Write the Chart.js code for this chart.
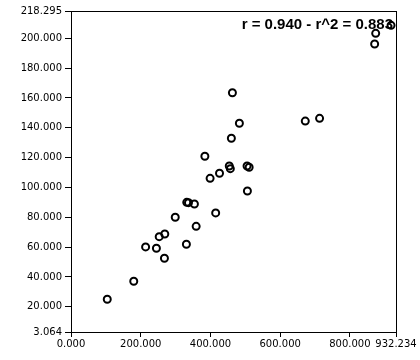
<!DOCTYPE html>
<html>
<head>
<meta charset="utf-8">
<script src="https://cdn.jsdelivr.net/npm/chart.js@4"></script>
<style>
  html, body { margin: 0; padding: 0; background: #fff; }
  #wrap { width: 420px; height: 360px; }
</style>
</head>
<body>
<div id="wrap"><canvas id="chart"></canvas></div>
<script>
// scatter values
const xValues = [104, 180, 214, 245, 253, 269, 268, 299, 331, 332, 337, 354, 359, 415, 384,
                 399, 426, 454, 457, 460, 483, 463, 505, 511, 506, 672, 713, 871, 874, 918];
const yValues = [25.0, 37.1, 60.1, 59.2, 67.0, 68.8, 52.5, 80.0, 61.9, 90.0, 89.8, 88.9, 73.9, 82.9, 120.9,
                 106.1, 109.5, 114.4, 112.6, 133.0, 143.0, 163.5, 114.4, 113.5, 97.6, 144.5, 146.3, 196.2, 203.3, 208.7];

const xTicks = [0, 200, 400, 600, 800, 932.234];
const yTicks = [3.064, 20, 40, 60, 80, 100, 120, 140, 160, 180, 200, 218.295];
const statText = 'r = 0.940 - r^2 = 0.883';

const points = xValues.map(function (x, i) { return { x: x, y: yValues[i] }; });

// frame round the plot area plus the r / r^2 text
const framePlugin = {
    id: 'frame',
    afterDraw: function (chart) {
        const ctx = chart.ctx;
        const a = chart.chartArea;
        ctx.save();
        ctx.strokeStyle = '#000';
        ctx.lineWidth = 1;
        ctx.strokeRect(Math.round(a.left) + 0.5, Math.round(a.top) + 0.5,
            Math.round(a.right - a.left), Math.round(a.bottom - a.top));
        ctx.font = 'bold 15px "Liberation Sans", Arial, sans-serif';
        ctx.fillStyle = '#000';
        ctx.textAlign = 'right';
        ctx.textBaseline = 'alphabetic';
        ctx.fillText(statText, a.right - 3, a.top + 18);
        ctx.restore();
    }
};

const tickFont = { family: '"DejaVu Sans", sans-serif', size: 10 };

new Chart(document.getElementById('chart').getContext('2d'), {
    type: 'scatter',
    data: {
        datasets: [{
            data: points,
            pointStyle: 'circle',
            pointRadius: 3.5,
            pointHoverRadius: 3.5,
            borderWidth: 2,
            borderColor: '#000',
            backgroundColor: 'rgba(255,255,255,0)'
        }]
    },
    options: {
        responsive: true,
        maintainAspectRatio: false,
        animation: false,
        layout: { padding: { top: 11, right: 24, left: 0, bottom: 0 } },
        plugins: { legend: { display: false }, tooltip: { enabled: false } },
        scales: {
            x: {
                type: 'linear',
                min: 0,
                max: 932.234,
                afterBuildTicks: function (scale) {
                    scale.ticks = xTicks.map(function (v) { return { value: v }; });
                },
                afterFit: function (scale) { scale.height = 28; },
                ticks: {
                    autoSkip: false,
                    maxRotation: 0,
                    padding: 1,
                    color: '#000',
                    font: tickFont,
                    callback: function (v) { return Number(v).toFixed(3); }
                },
                grid: { drawOnChartArea: false, tickLength: 5, color: '#000' },
                border: { color: '#000' }
            },
            y: {
                type: 'linear',
                min: 3.064,
                max: 218.295,
                afterBuildTicks: function (scale) {
                    scale.ticks = yTicks.map(function (v) { return { value: v }; });
                },
                afterFit: function (scale) { scale.width = 71; },
                ticks: {
                    autoSkip: false,
                    padding: 3,
                    color: '#000',
                    font: tickFont,
                    callback: function (v) { return Number(v).toFixed(3); }
                },
                grid: { drawOnChartArea: false, tickLength: 6, color: '#000' },
                border: { color: '#000' }
            }
        }
    },
    plugins: [framePlugin]
});
</script>
</body>
</html>
